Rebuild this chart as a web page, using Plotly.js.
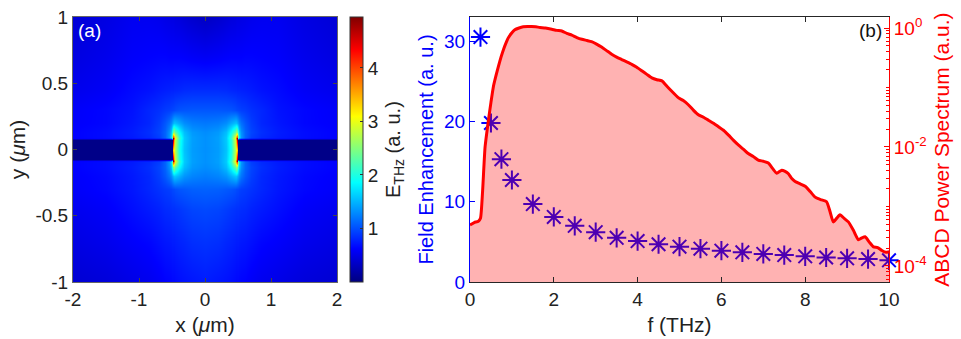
<!DOCTYPE html>
<html>
<head>
<meta charset="utf-8">
<script src="https://cdn.plot.ly/plotly-3.0.1.min.js"></script>
<style>
  html, body { margin: 0; padding: 0; background: #ffffff; }
  #chart { width: 961px; height: 339px; }
</style>
</head>
<body>
<div id="chart"></div>
<script>
// ---------- Panel (a): field map, half grid x >= 0 (mirrored to x < 0) ----------
const fieldX = [0, 0.2, 0.32, 0.4, 0.45, 0.475, 0.49, 0.505, 0.52, 0.55, 0.6, 0.7, 0.85, 1.1, 1.5, 2.0];
const fieldY = [-1, -0.7, -0.45, -0.3, -0.2, -0.13, -0.095, -0.085, -0.075, 0, 0.075, 0.085, 0.095, 0.13, 0.2, 0.3, 0.45, 0.7, 1];
const fieldRows = [
  [0.75, 0.72, 0.70, 0.68, 0.66, 0.65, 0.65, 0.65, 0.64, 0.63, 0.62, 0.58, 0.54, 0.50, 0.44, 0.40],
  [0.86, 0.84, 0.80, 0.78, 0.76, 0.75, 0.75, 0.75, 0.74, 0.73, 0.72, 0.69, 0.64, 0.60, 0.53, 0.48],
  [0.97, 0.95, 0.91, 0.88, 0.86, 0.85, 0.85, 0.85, 0.84, 0.83, 0.82, 0.78, 0.74, 0.68, 0.59, 0.54],
  [1.09, 1.08, 1.05, 1.03, 1.00, 0.98, 0.97, 0.96, 0.94, 0.92, 0.90, 0.86, 0.80, 0.72, 0.64, 0.59],
  [1.22, 1.26, 1.34, 1.48, 1.58, 1.58, 1.50, 1.40, 1.30, 1.18, 1.05, 0.92, 0.81, 0.73, 0.65, 0.60],
  [1.30, 1.36, 1.54, 1.88, 2.30, 2.55, 2.45, 1.95, 1.58, 1.32, 1.10, 0.95, 0.84, 0.75, 0.67, 0.62],
  [1.32, 1.39, 1.60, 2.08, 2.90, 3.50, 4.00, 2.40, 1.70, 1.35, 1.10, 0.92, 0.82, 0.74, 0.67, 0.62],
  [1.32, 1.39, 1.60, 2.12, 3.00, 3.90, 4.90, 2.00, 1.40, 1.15, 0.95, 0.82, 0.74, 0.70, 0.65, 0.60],
  [1.32, 1.39, 1.60, 2.02, 2.80, 3.50, 4.60, 0.04, 0.04, 0.04, 0.04, 0.04, 0.04, 0.04, 0.04, 0.04],
  [1.32, 1.38, 1.57, 1.97, 2.70, 3.10, 3.35, 0.04, 0.04, 0.04, 0.04, 0.04, 0.04, 0.04, 0.04, 0.04],
  [1.32, 1.39, 1.60, 2.02, 2.80, 3.50, 4.60, 0.04, 0.04, 0.04, 0.04, 0.04, 0.04, 0.04, 0.04, 0.04],
  [1.32, 1.39, 1.60, 2.12, 3.00, 3.90, 4.90, 2.00, 1.40, 1.15, 0.95, 0.82, 0.74, 0.70, 0.65, 0.60],
  [1.32, 1.39, 1.60, 2.08, 2.90, 3.50, 4.00, 2.40, 1.70, 1.35, 1.10, 0.92, 0.82, 0.74, 0.67, 0.62],
  [1.30, 1.36, 1.54, 1.88, 2.30, 2.55, 2.45, 1.95, 1.58, 1.32, 1.10, 0.95, 0.84, 0.75, 0.67, 0.62],
  [1.20, 1.23, 1.31, 1.45, 1.55, 1.55, 1.48, 1.38, 1.28, 1.16, 1.04, 0.91, 0.80, 0.72, 0.64, 0.60],
  [1.04, 1.04, 1.03, 1.02, 0.99, 0.97, 0.96, 0.95, 0.94, 0.92, 0.90, 0.85, 0.80, 0.70, 0.64, 0.59],
  [0.83, 0.83, 0.82, 0.80, 0.79, 0.79, 0.78, 0.78, 0.78, 0.77, 0.76, 0.74, 0.70, 0.66, 0.58, 0.53],
  [0.57, 0.59, 0.61, 0.62, 0.62, 0.62, 0.62, 0.62, 0.62, 0.62, 0.63, 0.63, 0.62, 0.60, 0.53, 0.47],
  [0.33, 0.38, 0.42, 0.45, 0.46, 0.47, 0.48, 0.48, 0.48, 0.49, 0.50, 0.53, 0.55, 0.55, 0.48, 0.42]
];
const axTicksA_x = [-2, -1, 0, 1, 2];
const axTicksA_xText = ['-2', '-1', '0', '1', '2'];
const axTicksA_y = [-1, -0.5, 0, 0.5, 1];
const axTicksA_yText = ['-1', '-0.5', '0', '0.5', '1'];
const cbarTicks = [1, 2, 3, 4];

// ---------- Panel (b) ----------
const enhF = [0.25, 0.5, 0.75, 1, 1.5, 2, 2.5, 3, 3.5, 4, 4.5, 5, 5.5, 6, 6.5, 7, 7.5, 8, 8.5, 9, 9.5, 10];
const enhVal = [30.5, 19.8, 15.3, 12.7, 9.7, 8.1, 7.0, 6.2, 5.5, 5.1, 4.7, 4.4, 4.15, 3.9, 3.7, 3.5, 3.35, 3.2, 3.05, 2.95, 2.85, 2.7];

const specF = [0, 0.1, 0.2, 0.25, 0.3, 0.36, 0.44, 0.5, 0.56, 0.62, 0.68, 0.74, 0.8, 0.86, 0.91, 1.0, 1.07, 1.17, 1.27, 1.37,
  1.47, 1.57, 1.67, 1.8, 1.95, 2.07, 2.19, 2.31, 2.43, 2.55, 2.67, 2.79, 2.9, 3.02, 3.14, 3.26, 3.38, 3.5, 3.62, 3.74,
  3.86, 3.98, 4.1, 4.22, 4.34, 4.46, 4.58, 4.7, 4.81, 4.97, 5.09, 5.21, 5.33, 5.45, 5.57, 5.69, 5.81, 5.93, 6.05, 6.17,
  6.29, 6.41, 6.53, 6.64, 6.76, 6.88, 7.0, 7.12, 7.22, 7.32, 7.44, 7.52, 7.6, 7.68, 7.76, 7.88, 8.0, 8.12, 8.23, 8.31,
  8.39, 8.51, 8.59, 8.67, 8.75, 8.83, 8.93, 9.03, 9.15, 9.27, 9.35, 9.43, 9.53, 9.63, 9.73, 9.83, 9.93, 10.0];
const specP = [4.9e-4, 5.37e-4, 5.62e-4, 6.31e-4, 1.78e-3, 1.0e-2, 2.82e-2, 5.62e-2, 0.105, 0.158, 0.229, 0.324, 0.437, 0.562, 0.676, 0.832, 0.933, 1.0, 1.047, 1.059,
  1.059, 1.047, 1.023, 1.0, 0.955, 0.912, 0.891, 0.813, 0.759, 0.692, 0.646, 0.617, 0.589, 0.537, 0.479, 0.417, 0.363, 0.324, 0.295, 0.269,
  0.245, 0.219, 0.191, 0.166, 0.145, 0.135, 0.129, 0.105, 0.0871, 0.0676, 0.0603, 0.0513, 0.0417, 0.0347, 0.0316, 0.0282, 0.0251, 0.0219, 0.0191, 0.0158,
  0.0129, 0.0107, 0.00912, 0.00776, 0.00692, 0.00603, 0.00575, 0.00537, 0.00437, 0.00363, 0.00407, 0.00389, 0.00355, 0.00295, 0.00263, 0.0024, 0.00219, 0.00178, 0.00145, 0.00135,
  0.00129, 0.0012, 0.000832, 0.00055, 0.000631, 0.000724, 0.000631, 0.00055, 0.000398, 0.000275, 0.000295, 0.000309, 0.000251, 0.000209, 0.000204, 0.000182, 0.00017, 0.000174];

const bTicksX = [0, 2, 4, 6, 8, 10];
const bTicksL = [0, 10, 20, 30];
const bTicksR = [1, 0.01, 0.0001];
const bTicksRText = ['10<sup>0</sup>', '10<sup>-2</sup>', '10<sup>-4</sup>'];

// ---------- build mirrored table ----------
const xFull = fieldX.slice(1).reverse().map(v => -v).concat(fieldX);
const zFull = fieldRows.map(r => r.slice(1).reverse().concat(r));

const jet = [[0, '#000080'], [0.125, '#0000ff'], [0.375, '#00ffff'], [0.625, '#ffff00'], [0.875, '#ff0000'], [1, '#800000']];
const FONT = 'Liberation Sans, Arial, sans-serif';
const W = 961, H = 339;
const pxX = p => p / W;
const pxY = p => 1 - p / H;
const TICK = 19, TITLE = 21;

const traces = [
  {
    type: 'heatmap', x: xFull, y: fieldY, z: zFull, xaxis: 'x', yaxis: 'y',
    zsmooth: 'best', colorscale: jet, zmin: 0, zmax: 4.95,
    hoverinfo: 'skip',
    colorbar: {
      x: pxX(350), xanchor: 'left', xref: 'paper', xpad: 0,
      y: pxY(282), yanchor: 'bottom', ypad: 0,
      len: 265, lenmode: 'pixels', thickness: 13,
      outlinewidth: 1, outlinecolor: '#333',
      tickvals: cbarTicks, ticks: 'inside', ticklen: 3, tickcolor: '#333',
      tickfont: {family: FONT, size: TICK, color: '#222'}
    }
  },
  {
    type: 'scatter', mode: 'markers', x: enhF, y: enhVal, xaxis: 'x2', yaxis: 'y2',
    marker: {symbol: 'asterisk-open', size: 16, color: '#0000ff', line: {color: '#0000ff', width: 2}},
    cliponaxis: false, hoverinfo: 'skip', showlegend: false
  },
  {
    type: 'scatter', mode: 'lines', x: specF, y: specP, xaxis: 'x2', yaxis: 'y3',
    fill: 'tozeroy', fillcolor: 'rgba(255,0,0,0.3)',
    line: {color: '#ff0000', width: 3, shape: 'spline', smoothing: 0.5},
    hoverinfo: 'skip', showlegend: false
  }
];

const yDom = [1 - 282 / H, 1 - 17 / H];
const layout = {
  width: W, height: H,
  margin: {l: 0, r: 0, t: 0, b: 0},
  paper_bgcolor: '#ffffff', plot_bgcolor: '#ffffff',
  font: {family: FONT, size: TICK, color: '#222'},
  showlegend: false,
  xaxis: {
    domain: [pxX(73), pxX(337)], range: [-2, 2], anchor: 'y',
    tickvals: axTicksA_x, ticktext: axTicksA_xText,
    ticks: 'inside', ticklen: 4, tickcolor: '#444', showline: true, linecolor: '#666', linewidth: 1, mirror: 'ticks',
    showgrid: false, zeroline: false, tickfont: {size: TICK, color: '#222'},
    title: {text: 'x (<i>μ</i>m)', font: {size: TITLE, color: '#222'}, standoff: 8}
  },
  yaxis: {
    domain: yDom, range: [-1, 1], anchor: 'x',
    tickvals: axTicksA_y, ticktext: axTicksA_yText,
    ticks: 'inside', ticklen: 4, tickcolor: '#444', showline: true, linecolor: '#666', linewidth: 1, mirror: 'ticks',
    showgrid: false, zeroline: false, tickfont: {size: TICK, color: '#222'},
    title: {text: 'y (<i>μ</i>m)', font: {size: TITLE, color: '#222'}, standoff: 4}
  },
  xaxis2: {
    domain: [pxX(470), pxX(889)], range: [0, 10], anchor: 'y2',
    tickvals: bTicksX, ticks: 'inside', ticklen: 5, tickcolor: '#262626',
    showline: true, linecolor: '#262626', linewidth: 1, mirror: 'ticks',
    showgrid: false, zeroline: false, tickfont: {size: TICK, color: '#222'},
    title: {text: 'f (THz)', font: {size: TITLE, color: '#222'}, standoff: 8}
  },
  yaxis2: {
    domain: yDom, range: [0, 33], anchor: 'x2',
    tickvals: bTicksL, ticks: 'inside', ticklen: 5, tickcolor: '#0000ff',
    showline: true, linecolor: '#0000ff', linewidth: 1,
    showgrid: false, zeroline: false, tickfont: {size: TICK, color: '#0000ff'},
    title: {text: 'Field Enhancement (a. u.)', font: {size: 20, color: '#0000ff'}, standoff: 5}
  },
  yaxis3: {
    overlaying: 'y2', side: 'right', anchor: 'x2', type: 'log',
    range: [-4.27, 0.185],
    tickmode: 'array', tickvals: bTicksR, ticktext: bTicksRText,
    ticks: 'inside', ticklen: 5, tickcolor: '#ff0000',
    minor: {ticks: 'inside', ticklen: 3, tickcolor: '#ff0000', dtick: 'D1', showgrid: false},
    showline: true, linecolor: '#ff0000', linewidth: 1,
    showgrid: false, zeroline: false, tickfont: {size: TICK, color: '#ff0000'},
    title: {text: 'ABCD Power Spectrum (a.u.)', font: {size: 21, color: '#ff0000'}, standoff: 8}
  },
  annotations: [
    {text: '(a)', xref: 'paper', yref: 'paper', x: pxX(76), y: pxY(18), xanchor: 'left', yanchor: 'top',
     showarrow: false, font: {size: 19, color: '#ffffff'}},
    {text: '(b)', xref: 'paper', yref: 'paper', x: pxX(884), y: pxY(18), xanchor: 'right', yanchor: 'top',
     showarrow: false, font: {size: 19, color: '#111111'}},
    {text: 'E<sub>THz</sub> (a. u.)', xref: 'paper', yref: 'paper', x: pxX(394), y: pxY(150), xanchor: 'center', yanchor: 'middle',
     textangle: -90, showarrow: false, font: {size: 20, color: '#222'}}
  ]
};

Plotly.newPlot('chart', traces, layout, {staticPlot: true, displayModeBar: false});
</script>
</body>
</html>
